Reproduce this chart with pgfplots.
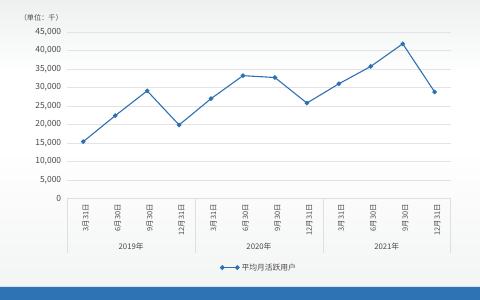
\documentclass[border=0pt]{standalone}
\usepackage{pgfplots}
\pgfplotsset{compat=1.18}
\usepackage{fontspec}
\setmainfont{Noto Sans CJK SC}
\definecolor{lineblue}{HTML}{2F6FB4}
\definecolor{banner}{HTML}{2E74B5}
\definecolor{txt}{HTML}{4A4A4A}
\definecolor{bgtop}{HTML}{EEF0F0}
\definecolor{bgbot}{HTML}{F2F3F3}
\pgfplotstableread{
x y
0 15400
1 22400
2 29100
3 19900
4 27000
5 33200
6 32700
7 25800
8 31000
9 35700
10 41800
11 28800
}\mau
\begin{document}
\begin{tikzpicture}[x=1bp,y=1bp]
\shade[top color=bgtop, bottom color=white, middle color=white] (0,150) rectangle (480,300);
\shade[top color=white, bottom color=bgbot] (0,0) rectangle (480,150);
\fill[banner] (0,0) rectangle (480,13);
\draw[white!80!banner, line width=0.8bp] (0,13.4) -- (480,13.4);
\node[anchor=east, font=\fontsize{7.2}{8}\selectfont, text=txt] at (66,282) {（单位：千）};
\begin{axis}[
  at={(67bp,101bp)}, anchor=south west,
  width=384bp, height=167bp, scale only axis,
  xmin=-0.5, xmax=11.5, ymin=0, ymax=45000,
  clip=false,
  axis lines=left,
  y axis line style={draw=none},
  x axis line style={draw=gray!25, -},
  ytick={0,5000,...,45000},
  xtick={0,...,11},
  xticklabels={3月31日,6月30日,9月30日,12月31日,3月31日,6月30日,9月30日,12月31日,3月31日,6月30日,9月30日,12月31日},
  tick style={draw=none},
  ymajorgrids, grid style={gray!22, line width=0.6bp},
  /pgf/number format/assume math mode=true,
  /pgf/number format/1000 sep={,},
  scaled y ticks=false,
  yticklabel style={font=\fontsize{8.5}{9}\selectfont, text=txt, xshift=-0.5bp},
  xticklabel style={font=\fontsize{7.4}{8}\selectfont, text=txt, rotate=90, anchor=east, yshift=-2.5bp},
  legend style={at={(0.5,-0.413)}, anchor=center, draw=none, fill=none, font=\fontsize{7.8}{9}\selectfont, text=txt, inner sep=0pt},
  legend image code/.code={
    \draw[lineblue, line width=1bp] (0bp,0bp) -- (15bp,0bp);
    \fill[lineblue] (0bp,0bp) circle (1.8bp);
    \fill[lineblue] (15bp,0bp) circle (1.8bp);
  },
]
\addplot[lineblue, line width=1.1bp, mark=*, mark size=1.7bp, mark options={fill=lineblue, draw=lineblue}] table[x=x, y=y] {\mau};
\addlegendentry{平均月活跃用户}
\foreach \s in {-0.5,3.5,7.5,11.5} {
  \edef\tmp{\noexpand\draw[gray!25, line width=0.6bp] (axis cs:\s,0) -- ([yshift=-54bp]axis cs:\s,0);}
  \tmp
}
\node[font=\fontsize{7.8}{9}\selectfont, text=txt] at ([yshift=-48bp]axis cs:1.5,0) {2019年};
\node[font=\fontsize{7.8}{9}\selectfont, text=txt] at ([yshift=-48bp]axis cs:5.5,0) {2020年};
\node[font=\fontsize{7.8}{9}\selectfont, text=txt] at ([yshift=-48bp]axis cs:9.5,0) {2021年};
\end{axis}
\end{tikzpicture}
\end{document}
